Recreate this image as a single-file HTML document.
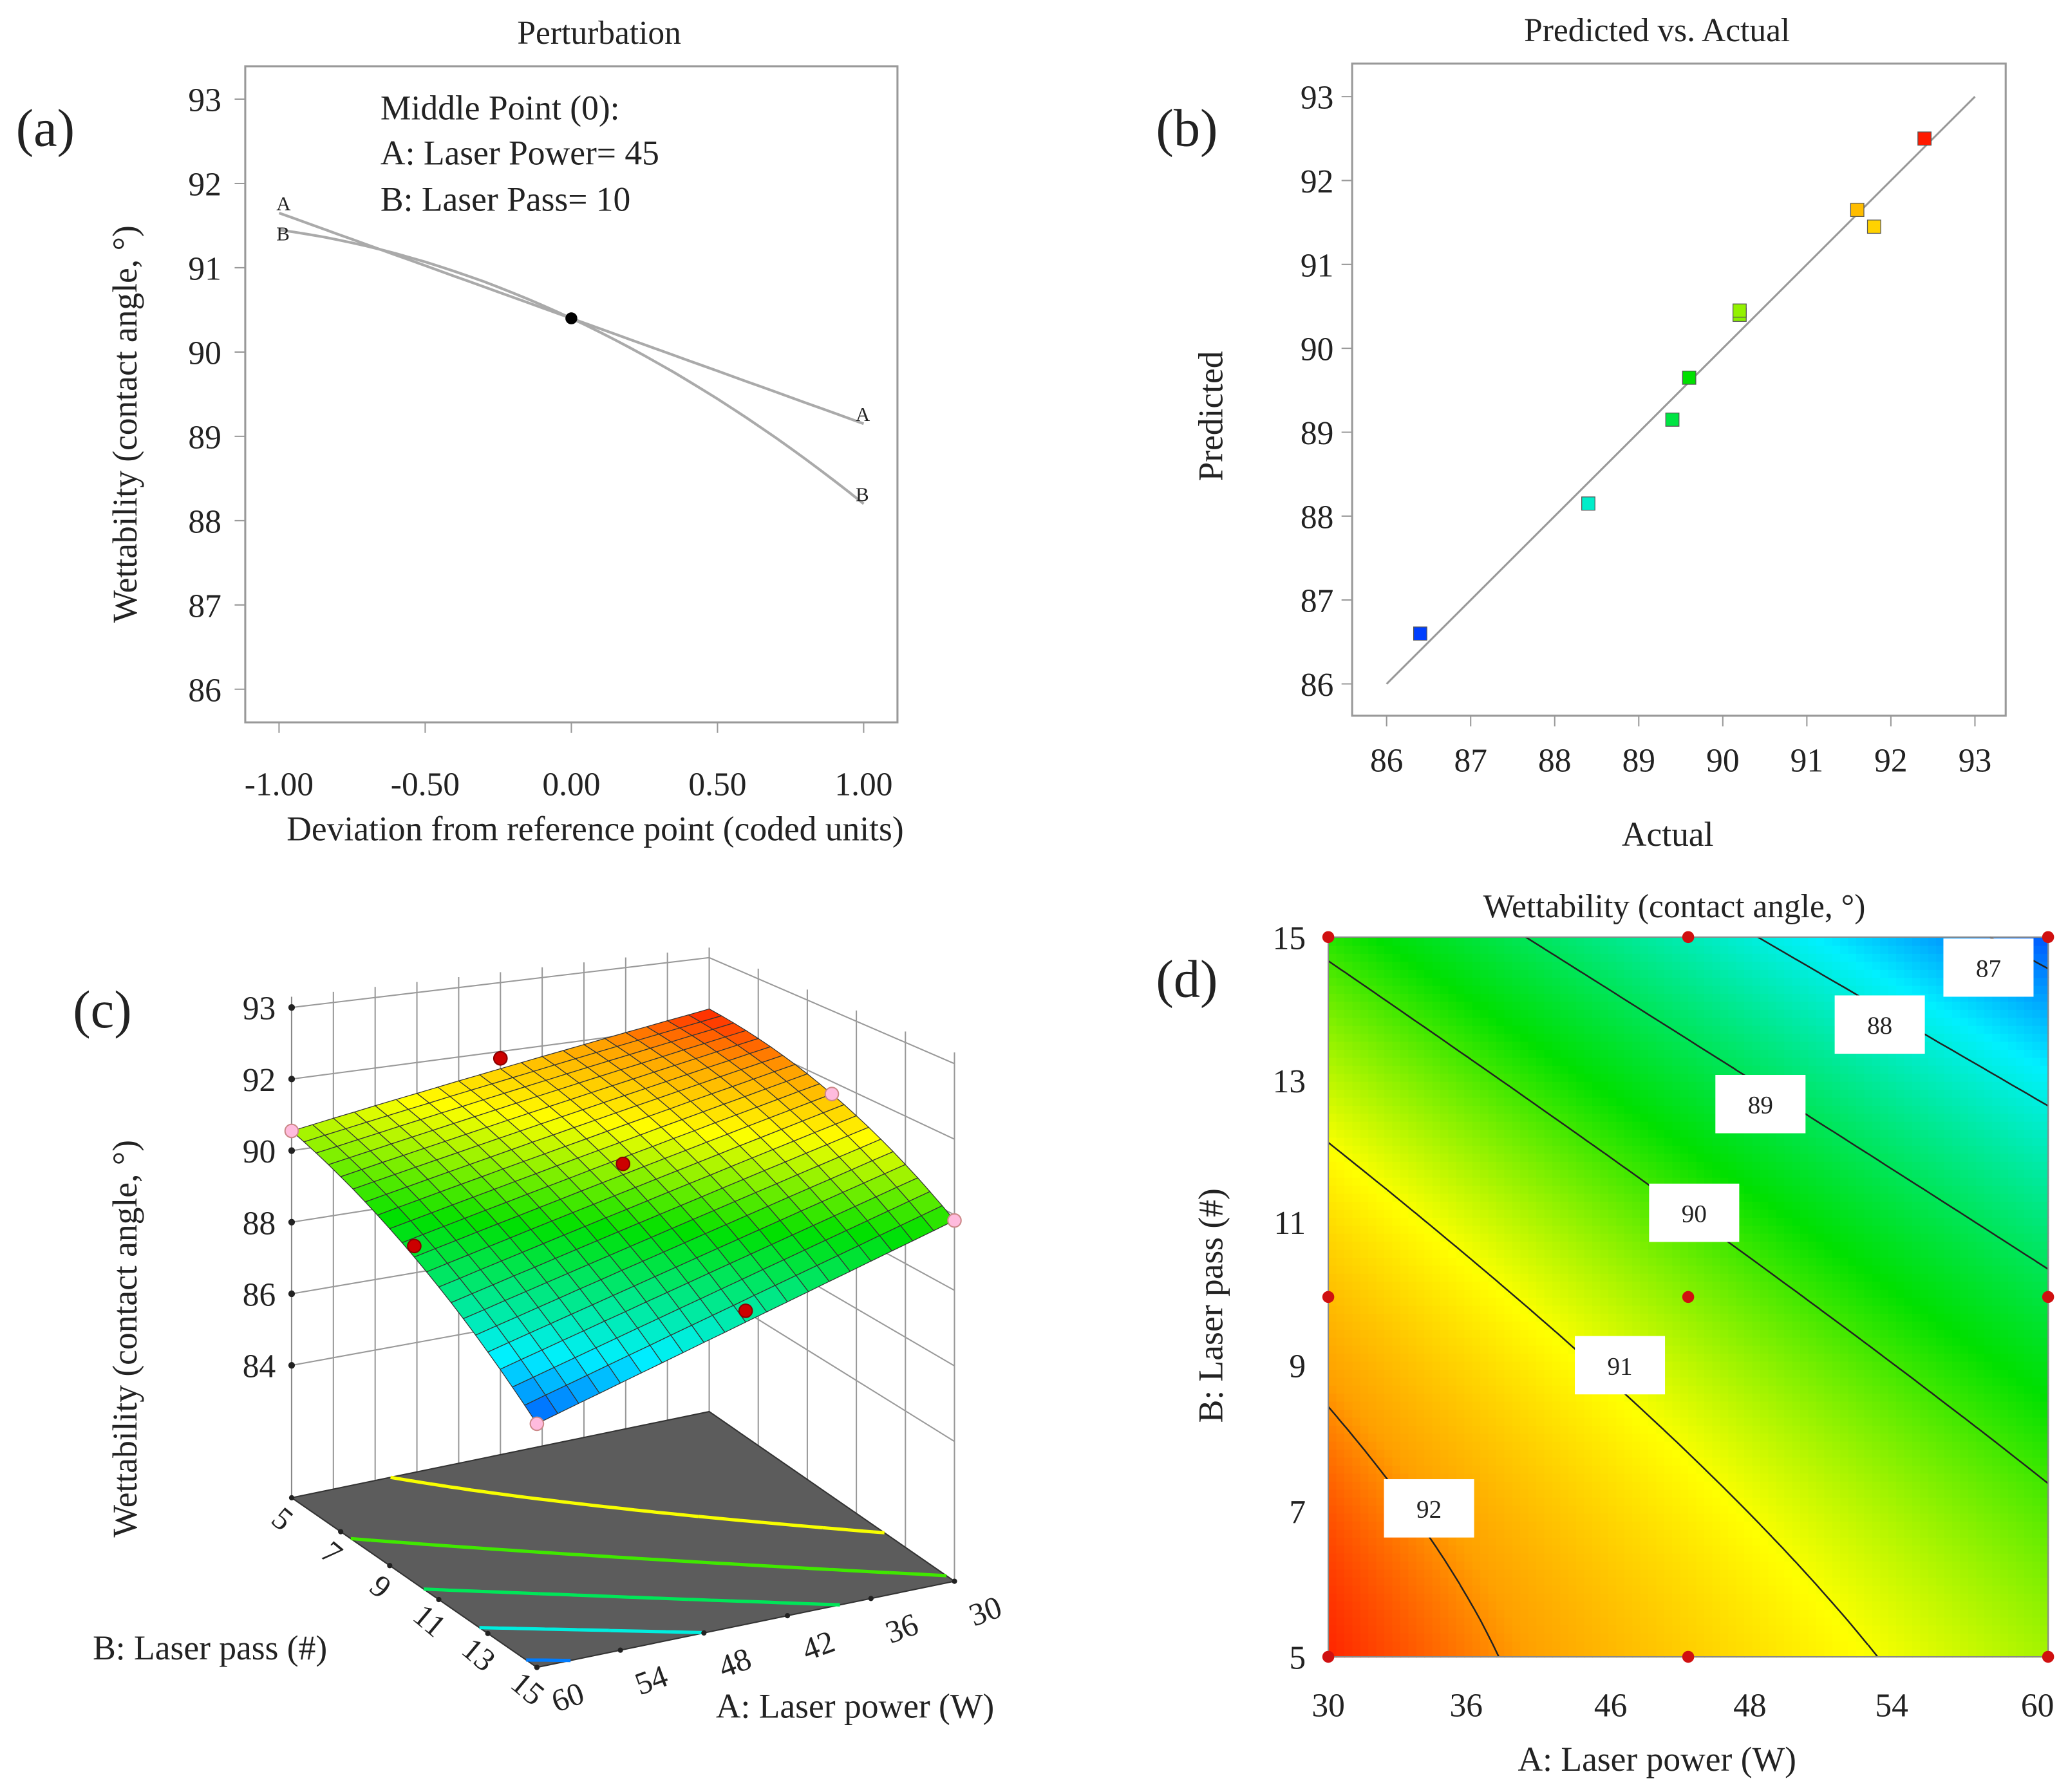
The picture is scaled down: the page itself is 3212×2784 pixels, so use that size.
<!DOCTYPE html>
<html><head><meta charset="utf-8"><style>
html,body{margin:0;padding:0;background:#fff}
svg{display:block}
text{font-family:"Liberation Serif",serif;fill:#222}
</style></head><body>
<svg id="s" width="3212" height="2784" viewBox="0 0 1560 1352" preserveAspectRatio="none" xmlns="http://www.w3.org/2000/svg">
<rect width="1560" height="1352" fill="#fff"/>
<g id="pa"></g>
<g id="pb"></g>
<g id="pc"></g>
<g id="pd"></g>
</svg>
<script>
// ---- data ----
const pertX = [-1, 0, 1];
const pertA = [91.65, 90.4, 89.15];
const pertB = [91.45, 90.4, 88.2];
const pertYTicks = [86,87,88,89,90,91,92,93];
const pertXTicks = ["-1.00","-0.50","0.00","0.50","1.00"];
const actual = [86.4, 88.4, 89.4, 89.6, 90.2, 90.2, 91.6, 91.8, 92.4];
const predicted = [86.6, 88.15, 89.15, 89.65, 90.4, 90.45, 91.65, 91.45, 92.5];
const pvaTicks = [86,87,88,89,90,91,92,93];
// model in coded units: [b0, a, b, ab, aa, bb]
const modelCoef = [90.4, -1.25, -1.6, -0.3, 0, -0.5];
const contourLevels = [87, 88, 89, 90, 91, 92];
const dXTicks = ["30","36","46","48","54","60"];
const dYTicks = ["5","7","9","11","13","15"];
const zTicks = [84,86,88,90,92,94];
const zTickLabels = ["84","86","88","90","92","93"];
const bTicks3d = ["5","7","9","11","13","15"];
const aTicks3d = ["60","54","48","42","36","30"];

const NS="http://www.w3.org/2000/svg";
function mk(p,tag,at,txt){const e=document.createElementNS(NS,tag);for(const k in at)e.setAttribute(k,at[k]);if(txt!==undefined)e.textContent=txt;p.appendChild(e);return e;}
function f(a,b){const c=modelCoef;return c[0]+c[1]*a+c[2]*b+c[3]*a*b+c[4]*a*a+c[5]*b*b;}
function color(v){
 const t=Math.max(0,Math.min(1,(v-86.5)/(92.8-86.5)));
 const st=[[0,[0,48,255]],[0.2,[0,240,255]],[0.5,[0,224,0]],[0.72,[255,255,0]],[0.86,[255,160,0]],[0.97,[255,0,0]],[1,[255,0,0]]];
 for(let i=1;i<st.length;i++){if(t<=st[i][0]){const[t0,c0]=st[i-1],[t1,c1]=st[i];const u=(t-t0)/(t1-t0);
 return `rgb(${c0.map((x,j)=>Math.round(x+(c1[j]-x)*u)).join(',')})`;}}
 return 'rgb(255,0,0)';}
function lag(xs,ys,x){let s=0;for(let i=0;i<3;i++){let p=ys[i];for(let j=0;j<3;j++)if(j!==i)p*=(x-xs[j])/(xs[i]-xs[j]);s+=p;}return s;}

// ---- panel a ----
(function(){
 const g=document.getElementById('pa');
 const X=v=>431+v*220.5, Y=v=>520-(v-86)*63.6;
 mk(g,'text',{x:452,y:33,'text-anchor':'middle','font-size':25,},'Perturbation');
 mk(g,'rect',{x:185,y:50,width:492,height:495,fill:'none',stroke:'#999','stroke-width':1.5,});
 mk(g,'text',{x:12,y:110,'font-size':40,},'(a)');
 pertYTicks.forEach(v=>{const t=mk(g,'text',{x:167,y:Y(v)+9,'text-anchor':'end','font-size':25},String(v));
  
  const l=mk(g,'line',{x1:177,x2:185,y1:Y(v),y2:Y(v),stroke:'#999'});});
 pertXTicks.forEach(s=>{const v=parseFloat(s);const t=mk(g,'text',{x:X(v),y:600,'text-anchor':'middle','font-size':25},s);
  
  const l=mk(g,'line',{x1:X(v),x2:X(v),y1:545,y2:553,stroke:'#999'});});
 mk(g,'text',{x:449,y:634,'text-anchor':'middle','font-size':26,},'Deviation from reference point (coded units)');
 mk(g,'text',{x:0,y:0,transform:'translate(103,320) rotate(-90)','text-anchor':'middle','font-size':26,},'Wettability (contact angle, °)');
 [['A',pertA],['B',pertB]].forEach(([n,ys])=>{let d='';for(let i=0;i<=40;i++){const x=-1+i/20;d+=(i?'L':'M')+X(x).toFixed(1)+','+Y(lag(pertX,ys,x)).toFixed(1);}
  const p=mk(g,'path',{d:d,fill:'none',stroke:'#aaa','stroke-width':2});
  const t1=mk(g,'text',{x:X(1)-6,y:Y(ys[2])-2,'font-size':15,fill:'#777'},n);
  const t2=mk(g,'text',{x:X(-1)-2,y:Y(ys[0])+(n==='A'?-2:8),'font-size':15,fill:'#777'},n);});
 mk(g,'circle',{cx:X(0),cy:Y(pertA[1]),r:4.5,fill:'#000',});
 const lg=mk(g,'g',{});
 mk(lg,'text',{x:287,y:90,'font-size':26},'Middle Point (0):');
 mk(lg,'text',{x:287,y:124,'font-size':26},'A: Laser Power= 45');
 mk(lg,'text',{x:287,y:159,'font-size':26},'B: Laser Pass= 10');
})();

// ---- panel b ----
(function(){
 const g=document.getElementById('pb');
 const X=v=>1046+(v-86)*63.4, Y=v=>516-(v-86)*63.3;
 mk(g,'text',{x:1250,y:31,'text-anchor':'middle','font-size':25,},'Predicted vs. Actual');
 mk(g,'rect',{x:1020,y:48,width:493,height:492,fill:'none',stroke:'#999','stroke-width':1.5,});
 mk(g,'text',{x:872,y:110,'font-size':40,},'(b)');
 pvaTicks.forEach(v=>{const t=mk(g,'text',{x:1006,y:Y(v)+9,'text-anchor':'end','font-size':25},String(v));
  
  const l=mk(g,'line',{x1:1012,x2:1020,y1:Y(v),y2:Y(v),stroke:'#999'});
  const t2=mk(g,'text',{x:X(v),y:582,'text-anchor':'middle','font-size':25},String(v));
  
  const l2=mk(g,'line',{x1:X(v),x2:X(v),y1:540,y2:548,stroke:'#999'});});
 mk(g,'text',{x:1258,y:638,'text-anchor':'middle','font-size':26,},'Actual');
 mk(g,'text',{x:0,y:0,transform:'translate(922,314) rotate(-90)','text-anchor':'middle','font-size':26,},'Predicted');
 mk(g,'line',{x1:X(86),y1:Y(86),x2:X(93),y2:Y(93),stroke:'#999','stroke-width':1.5,});
 actual.forEach((a,i)=>{const r=mk(g,'rect',{x:X(a)-5,y:Y(predicted[i])-5,width:10,height:10,fill:color(predicted[i]),stroke:'#555','stroke-width':0.6});
  });
})();

// ---- contour helper (marching squares) over coded domain ----
function contourSegs(level,N){
 const segs=[];
 for(let i=0;i<N;i++)for(let j=0;j<N;j++){
  const a0=-1+2*i/N,a1=-1+2*(i+1)/N,b0=-1+2*j/N,b1=-1+2*(j+1)/N;
  const P=[[a0,b0],[a1,b0],[a1,b1],[a0,b1]];const V=P.map(p=>f(p[0],p[1]));
  const pts=[];
  for(let k=0;k<4;k++){const k2=(k+1)%4;const v1=V[k]-level,v2=V[k2]-level;
   if((v1<0)!==(v2<0)){const t=v1/(v1-v2);pts.push([P[k][0]+(P[k2][0]-P[k][0])*t,P[k][1]+(P[k2][1]-P[k][1])*t]);}}
  if(pts.length===2)segs.push(pts);}
 return segs;}

// ---- panel d ----
(function(){
 const g=document.getElementById('pd');
 const x0=1002,x1=1545,y0=707,y1=1250;
 const X=a=>x0+(a+1)/2*(x1-x0), Y=b=>y1-(b+1)/2*(y1-y0);
 const fill=mk(g,'g',{});
 const N=90;const w=(x1-x0)/N;
 for(let i=0;i<N;i++)for(let j=0;j<N;j++){const a=-1+(2*i+1)/N,b=-1+(2*j+1)/N;
  mk(fill,'rect',{x:(x0+i*w).toFixed(2),y:(y1-(j+1)*w).toFixed(2),width:(w+0.6).toFixed(2),height:(w+0.6).toFixed(2),fill:color(f(a,b))});}
 contourLevels.forEach(lv=>{let d='';contourSegs(lv,60).forEach(s=>{d+='M'+X(s[0][0]).toFixed(1)+','+Y(s[0][1]).toFixed(1)+'L'+X(s[1][0]).toFixed(1)+','+Y(s[1][1]).toFixed(1);});
  const p=mk(g,'path',{d:d,stroke:'#222','stroke-width':1.2,fill:'none'});});
 const labs=[[87,1500,730],[88,1418,773],[89,1328,833],[90,1278,915],[91,1222,1030],[92,1078,1138]];
 labs.forEach(([v,cx,cy])=>{const lg=mk(g,'g',{});
  mk(lg,'rect',{x:cx-34,y:cy-22,width:68,height:44,fill:'#fff'});mk(lg,'text',{x:cx,y:cy+7,'text-anchor':'middle','font-size':19},String(v));});
 mk(g,'rect',{x:x0,y:y0,width:x1-x0,height:y1-y0,fill:'none',stroke:'#888',});
 [[-1,-1],[0,-1],[1,-1],[-1,0],[0,0],[1,0],[-1,1],[0,1],[1,1]].forEach(p=>{const c=mk(g,'circle',{cx:X(p[0]),cy:Y(p[1]),r:4.5,fill:'#d01010'});});
 const xp=[1002,1106,1215,1320,1427,1537];
 dXTicks.forEach((s,i)=>{const t=mk(g,'text',{x:xp[i],y:1295,'text-anchor':'middle','font-size':25},s);});
 const yp=[1250,1140,1030,922,815,707];
 dYTicks.forEach((s,i)=>{const t=mk(g,'text',{x:985,y:yp[i]+9,'text-anchor':'end','font-size':25},s);});
 mk(g,'text',{x:1250,y:1336,'text-anchor':'middle','font-size':26,},'A: Laser power (W)');
 mk(g,'text',{x:0,y:0,transform:'translate(922,985) rotate(-90)','text-anchor':'middle','font-size':26,},'B: Laser pass (#)');
 mk(g,'text',{x:1263,y:692,'text-anchor':'middle','font-size':25,},'Wettability (contact angle, °)');
 mk(g,'text',{x:872,y:752,'font-size':40,},'(d)');
})();

// ---- panel c ----
(function(){
 const g=document.getElementById('pc');
 mk(g,'text',{x:55,y:775,'font-size':40,},'(c)');
 const P0=[220,1130],U=[315,-65],V=[185,128],z0=80.3;
 const S=[[27,28.5],[25,28.5]];
 function proj(a,b,z){const u=(1-a)/2,v=(b+1)/2;
  const s=S[0][0]*(1-u)*(1-v)+S[1][0]*u*(1-v)+S[0][1]*(1-u)*v+S[1][1]*u*v;
  return [P0[0]+U[0]*u+V[0]*v, P0[1]+U[1]*u+V[1]*v-(z-z0)*s];}
 const pt=p=>p[0].toFixed(1)+','+p[1].toFixed(1);
 const walls=mk(g,'g',{});
 const zt=94.3;
 for(let k=0;k<=10;k++){const a=1-k/5;if(a<-1)break;const p1=proj(a,-1,z0),p2=proj(a,-1,zt);mk(walls,'line',{x1:p1[0],y1:p1[1],x2:p2[0],y2:p2[1],stroke:'#999','stroke-width':1});}
 for(let k=0;k<=5;k++){const b=-1+k*0.4;const p1=proj(-1,b,z0),p2=proj(-1,b,zt);mk(walls,'line',{x1:p1[0],y1:p1[1],x2:p2[0],y2:p2[1],stroke:'#999','stroke-width':1});}
 zTicks.forEach((z,i)=>{const p1=proj(1,-1,z),p2=proj(-1,-1,z),p3=proj(-1,1,z);
  mk(walls,'path',{d:'M'+pt(p1)+'L'+pt(p2)+'L'+pt(p3),fill:'none',stroke:'#999'});
  const t=mk(g,'text',{x:p1[0]-12,y:p1[1]+9,'text-anchor':'end','font-size':25},zTickLabels[i]);
  
  const d=mk(g,'circle',{cx:p1[0],cy:p1[1],r:2.5,fill:'#222'});});
 const zl=proj(1,-1,z0),zh=proj(1,-1,zt);
 mk(walls,'line',{x1:zl[0],y1:zl[1],x2:zh[0],y2:zh[1],stroke:'#888'});
 const fl=[proj(1,-1,z0),proj(-1,-1,z0),proj(-1,1,z0),proj(1,1,z0)];
 mk(g,'path',{d:'M'+fl.map(pt).join('L')+'Z',fill:'#5c5c5c',stroke:'#333',});
 [87,88,89,90,91].forEach(lv=>{let d='';contourSegs(lv,30).forEach(s=>{d+='M'+pt(proj(s[0][0],s[0][1],z0))+'L'+pt(proj(s[1][0],s[1][1],z0));});
  const p=mk(g,'path',{d:d,stroke:color(lv),'stroke-width':2.5,fill:'none'});});
 const sf=mk(g,'g',{});
 const N=20,quads=[];
 for(let i=0;i<N;i++)for(let j=0;j<N;j++){const a0=-1+2*i/N,a1=a0+2/N,b0=-1+2*j/N,b1=b0+2/N;
  const c=[[a0,b0],[a1,b0],[a1,b1],[a0,b1]];const ac=(a0+a1)/2,bc=(b0+b1)/2;
  quads.push({d:(1-ac)+(1-bc),pts:c.map(p=>proj(p[0],p[1],f(p[0],p[1]))),v:f(ac,bc)});}
 quads.sort((p,q)=>q.d-p.d);
 quads.forEach(q=>mk(sf,'path',{d:'M'+q.pts.map(pt).join('L')+'Z',fill:color(q.v),stroke:'#333','stroke-width':0.6}));
 [[1,-1,'o'],[-1,1,'o'],[1,1,'o'],[0,0,'r'],[0,-1,'r'],[1,0,'r'],[-1,0,'o'],[0,1,'r']].forEach(p=>{
  const q=proj(p[0],p[1],f(p[0],p[1])+(p[2]==='r'?0.3:0));
  const c=mk(g,'circle',{cx:q[0],cy:q[1],r:5,fill:p[2]==='r'?'#c00':'#fbd',stroke:p[2]==='r'?'#800':'#c88'});
  });
 bTicks3d.forEach((s,i)=>{const b=-1+i*0.4;const q=proj(1,b,z0);
  const t=mk(g,'text',{x:0,y:0,transform:`translate(${q[0]-12},${q[1]+22}) rotate(40)`,'text-anchor':'middle','font-size':24},s);
  
  mk(g,'circle',{cx:q[0],cy:q[1],r:2,fill:'#222'});});
 aTicks3d.forEach((s,i)=>{const a=1-i*0.4;const q=proj(a,1,z0);
  const t=mk(g,'text',{x:0,y:0,transform:`translate(${q[0]+26},${q[1]+30}) rotate(-20)`,'text-anchor':'middle','font-size':24},s);
  
  mk(g,'circle',{cx:q[0],cy:q[1],r:2,fill:'#222'});});
 mk(g,'text',{x:70,y:1252,'font-size':26,},'B: Laser pass (#)');
 mk(g,'text',{x:540,y:1296,'font-size':26,},'A: Laser power (W)');
 mk(g,'text',{x:0,y:0,transform:'translate(103,1010) rotate(-90)','text-anchor':'middle','font-size':26,},'Wettability (contact angle, °)');
})();
</script>
</body></html>
